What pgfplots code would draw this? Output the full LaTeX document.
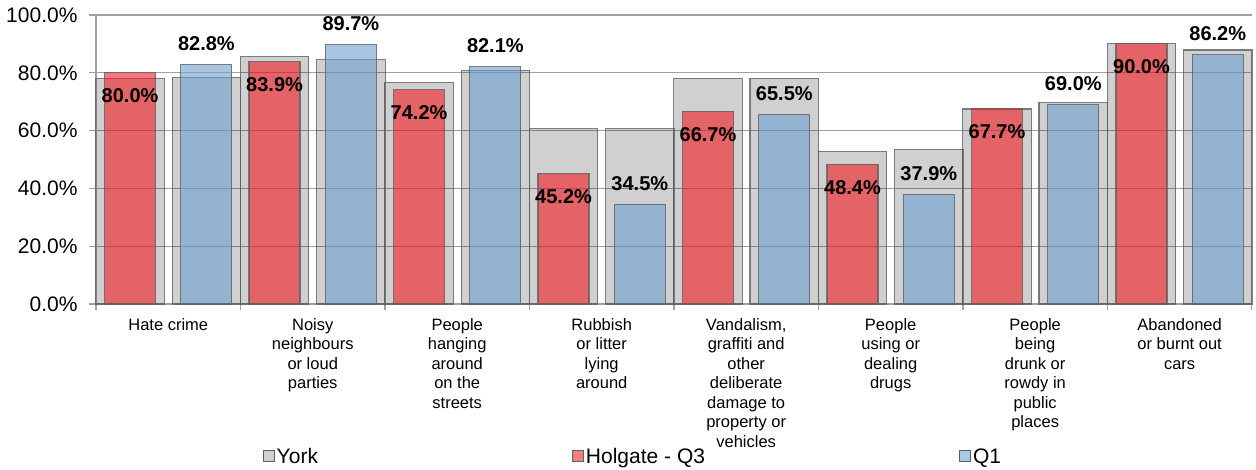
\documentclass[border=0pt]{standalone}
\usepackage{fontspec}
\setmainfont{Liberation Sans}
\usepackage{pgfplots}
\usepackage{pgfplotstable}
\pgfplotsset{compat=1.18}
\definecolor{hred}{RGB}{241,28,33}
\definecolor{qblue}{RGB}{110,160,210}
\definecolor{yorkleg}{RGB}{208,208,208}
\definecolor{hredleg}{RGB}{247,125,125}
\definecolor{qblueleg}{RGB}{168,200,232}
\definecolor{gridgrey}{RGB}{160,160,160}
\definecolor{edgegrey}{RGB}{95,95,95}

\pgfplotstableread{
i york3 york1 holgate q1
0 78.0 78.3 80.0 82.8
1 85.7 84.5 83.9 89.7
2 76.6 80.7 74.2 82.1
3 60.6 60.6 45.2 34.5
4 78.1 78.1 66.7 65.5
5 52.7 53.5 48.4 37.9
6 67.5 69.6 67.7 69.0
7 90.1 87.9 90.0 86.2
}\datatable

\begin{document}
\begin{tikzpicture}
\begin{axis}[
  scale only axis, width=1156pt, height=289pt,
  xmin=-0.5, xmax=7.5, ymin=0, ymax=100,
  /pgf/number format/assume math mode=true,
  axis lines*=left,
  axis line style={gridgrey, line width=1.2pt},
  clip=false,
  ytick={0,20,40,60,80,100},
  yticklabels={0.0\%,20.0\%,40.0\%,60.0\%,80.0\%,100.0\%},
  yticklabel style={font=\fontsize{21}{25}\selectfont, text=black, xshift=-8pt},
  ymajorgrids,
  major grid style={gridgrey, line width=1.2pt},
  xtick={0,1,2,3,4,5,6,7},
  xticklabels={{Hate crime},{Noisy\\neighbours\\or loud\\parties},{People\\hanging\\around\\on the\\streets},{Rubbish\\or litter\\lying\\around},{Vandalism,\\graffiti and\\other\\deliberate\\damage to\\property or\\vehicles},{People\\using or\\dealing\\drugs},{People\\being\\drunk or\\rowdy in\\public\\places},{Abandoned\\or burnt out\\cars}},
  xticklabel style={font=\fontsize{16.5}{19.5}\selectfont, align=center, anchor=north, text=black, yshift=-4pt},
  major x tick style={draw=none},
  minor xtick={-0.5,0.5,1.5,2.5,3.5,4.5,5.5,6.5,7.5},
  tick align=outside,
  major tick length=7pt, minor tick length=6pt,
  tick style={gridgrey, line width=1.2pt},
  legend image code/.code={\draw[#1, line width=1pt] (0pt,-5pt) rectangle (11pt,6pt);},
  legend style={at={(0.4645,-0.529)}, anchor=center, legend columns=3, draw=none, fill=none,
    font=\fontsize{21}{25}\selectfont,
    /tikz/every even column/.append style={column sep=252pt}},
  legend cell align=left,
]
% York bars (behind)
\addplot[ybar, bar width=0.474, bar shift=0pt, fill=black, fill opacity=0.185, draw=edgegrey, draw opacity=0.8, line width=1.2pt, forget plot]
  table[x expr=\thisrow{i}-0.264, y=york3]{\datatable};
\addplot[ybar, bar width=0.474, bar shift=0pt, fill=black, fill opacity=0.185, draw=edgegrey, draw opacity=0.8, line width=1.2pt, forget plot]
  table[x expr=\thisrow{i}+0.264, y=york1]{\datatable};
% Holgate Q3 and Q1
\addplot[ybar, bar width=0.353, bar shift=0pt, fill=hred, fill opacity=0.6, draw=edgegrey, draw opacity=0.8, line width=1.2pt, forget plot]
  table[x expr=\thisrow{i}-0.264, y=holgate]{\datatable};
\addplot[ybar, bar width=0.353, bar shift=0pt, fill=qblue, fill opacity=0.6, draw=edgegrey, draw opacity=0.8, line width=1.2pt, forget plot]
  table[x expr=\thisrow{i}+0.264, y=q1]{\datatable};
% labels
\addplot[ybar, bar width=0.353, bar shift=0pt, draw=none, fill=none, forget plot,
  nodes near coords={\pgfmathprintnumber[fixed,fixed zerofill,precision=1]{\pgfplotspointmeta}\%},
  every node near coord/.append style={anchor=center, yshift=-23pt, font=\bfseries\fontsize{20}{24}\selectfont, text=black, text opacity=1}]
  table[x expr=\thisrow{i}-0.264, y=holgate]{\datatable};
\addplot[ybar, bar width=0.353, bar shift=0pt, draw=none, fill=none, forget plot,
  nodes near coords={\pgfmathprintnumber[fixed,fixed zerofill,precision=1]{\pgfplotspointmeta}\%},
  every node near coord/.append style={anchor=center, yshift=21pt, font=\bfseries\fontsize{20}{24}\selectfont, text=black, text opacity=1}]
  table[x expr=\thisrow{i}+0.264, y=q1]{\datatable};
\addlegendimage{fill=yorkleg, draw=edgegrey}
\addlegendentry{York}
\addlegendimage{fill=hredleg, draw=edgegrey}
\addlegendentry{Holgate - Q3}
\addlegendimage{fill=qblueleg, draw=edgegrey}
\addlegendentry{Q1}
\end{axis}
\pgfresetboundingbox
\path (-96pt,-166pt) rectangle (1160pt,304pt);
\end{tikzpicture}
\end{document}
